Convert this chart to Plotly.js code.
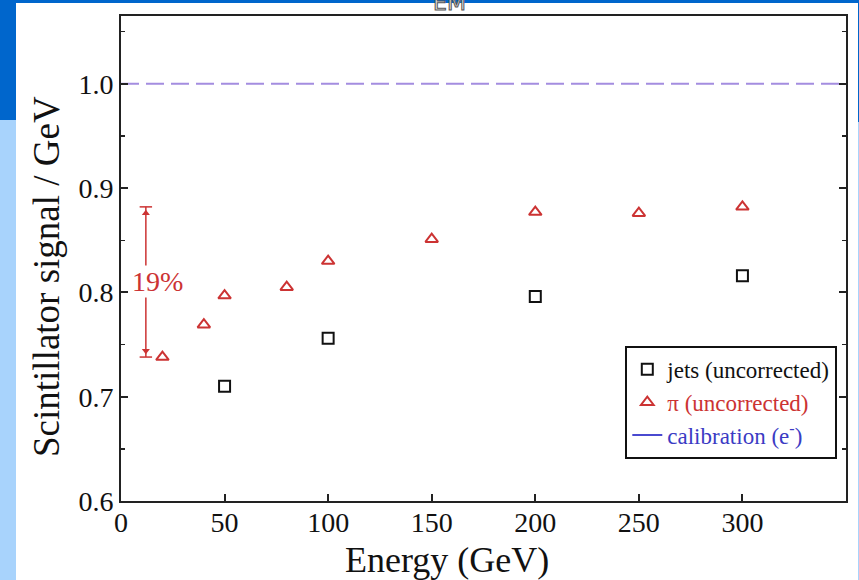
<!DOCTYPE html>
<html>
<head>
<meta charset="utf-8">
<script src="https://cdn.plot.ly/plotly-3.0.1.min.js"></script>
<style>
  html, body { margin: 0; padding: 0; }
  body { width: 859px; height: 580px; position: relative; overflow: hidden; background: #ffffff; }
  .strip { position: absolute; }
  #em { position: absolute; left: 433px; top: -8px; font-family: "DejaVu Sans", sans-serif; font-size: 22px; line-height: 22px;
        color: #e8e8e8; -webkit-text-stroke: 1px #555; z-index: 5; }
  #chart { position: absolute; left: 16px; top: 3px; width: 842px; height: 577px; }
</style>
</head>
<body>
<div class="strip" style="left:0;top:0;width:16px;height:120px;background:#0066cc;"></div>
<div class="strip" style="left:0;top:120px;width:16px;height:460px;background:#a8d3fc;"></div>
<div class="strip" style="left:0;top:0;width:859px;height:3px;background:#0066cc;"></div>
<div class="strip" style="left:858px;top:0;width:1px;height:122px;background:#0066cc;"></div>
<div class="strip" style="left:858px;top:122px;width:1px;height:458px;background:#a8d3fc;"></div>
<div id="em">EM</div>
<div id="chart"></div>
<script>
// ---- data ----
const jetEnergy = [50, 100, 200, 300];
const jetSignal = [0.710, 0.756, 0.796, 0.816];

const pionEnergy = [20, 40, 50, 80, 100, 150, 200, 250, 300];
const pionSignal = [0.738, 0.769, 0.797, 0.805, 0.830, 0.851, 0.877, 0.876, 0.882];

const calibrationEnergy = [0, 350];
const calibrationSignal = [1.0, 1.0];

const xTickValues = [0, 50, 100, 150, 200, 250, 300];
const xTickLabels = ["0", "50", "100", "150", "200", "250", "300"];
const yTickValues = [0.6, 0.7, 0.8, 0.9, 1.0];
const yTickLabels = ["0.6", "0.7", "0.8", "0.9", "1.0"];

const spreadLabel = "19%";
const spreadEnergy = 12;
const spreadLow = 0.738;
const spreadHigh = 0.882;

const labels = {
  jets: "jets (uncorrected)",
  pions: "\u03c0 (uncorrected)",
  calib: "calibration (e<sup>-</sup>)",
  xTitle: "Energy (GeV)",
  yTitle: "Scintillator signal / GeV"
};

const serif = "Liberation Serif, Times New Roman, serif";
const red = "#cc3333";
const blue = "#3b3bc4";
const headInset = 0.006;

const traces = [
  {
    x: calibrationEnergy, y: calibrationSignal, mode: "lines", showlegend: false, hoverinfo: "skip",
    line: { color: "#a48de0", width: 2, dash: "18px,7px" }
  },
  {
    x: [spreadEnergy, spreadEnergy], y: [spreadLow, spreadHigh], mode: "lines", showlegend: false,
    line: { color: red, width: 1.5 }
  },
  {
    x: [spreadEnergy, spreadEnergy], y: [spreadLow + headInset, spreadHigh - headInset], mode: "markers", showlegend: false,
    marker: { symbol: ["triangle-down", "triangle-up"], size: 7, color: red, line: { width: 0 } }
  },
  {
    x: jetEnergy, y: jetSignal, mode: "markers", name: labels.jets,
    marker: { symbol: "square-open", size: 11, color: "#111111", line: { width: 2, color: "#111111" } }
  },
  {
    x: pionEnergy, y: pionSignal, mode: "markers",
    name: '<span style="color:' + red + '">' + labels.pions + '</span>',
    marker: { symbol: "triangle-up-open", size: 11, color: red, line: { width: 2, color: red } }
  },
  {
    x: [null], y: [null], mode: "lines",
    name: '<span style="color:' + blue + '">' + labels.calib + '</span>',
    line: { color: "#4a4ad0", width: 2 }
  }
];

const layout = {
  width: 842, height: 577,
  margin: { l: 105, r: 12, t: 13, b: 79 },
  paper_bgcolor: "#ffffff",
  plot_bgcolor: "#ffffff",
  font: { family: serif, color: "#111111", size: 28 },
  showlegend: true,
  legend: {
    x: 0.988, xanchor: "right", y: 0.087, yanchor: "bottom",
    bgcolor: "#ffffff", bordercolor: "#111111", borderwidth: 2,
    font: { family: serif, size: 23, color: "#111111" },
    tracegroupgap: 0, itemwidth: 30
  },
  xaxis: {
    range: [0, 350], tickvals: xTickValues, ticktext: xTickLabels,
    ticks: "inside", ticklen: 7, tickwidth: 2, tickcolor: "#222",
    showline: true, linewidth: 2, linecolor: "#222", mirror: true,
    showgrid: false, zeroline: false, ticklabelstandoff: -5,
    tickfont: { family: serif, size: 28, color: "#111" }
  },
  yaxis: {
    range: [0.6, 1.065], tickvals: yTickValues, ticktext: yTickLabels,
    ticks: "inside", ticklen: 7, tickwidth: 2, tickcolor: "#222",
    minor: { dtick: 0.05, tick0: 0.6, ticks: "inside", ticklen: 4, tickwidth: 1.5, tickcolor: "#222", showgrid: false },
    showline: true, linewidth: 2, linecolor: "#222", mirror: "ticks",
    showgrid: false, zeroline: false,
    tickfont: { family: serif, size: 28, color: "#111" }
  },
  shapes: [
    { type: "line", xref: "x", yref: "y", x0: spreadEnergy - 3, x1: spreadEnergy + 3, y0: spreadHigh, y1: spreadHigh,
      line: { color: red, width: 1.5 } },
    { type: "line", xref: "x", yref: "y", x0: spreadEnergy - 3, x1: spreadEnergy + 3, y0: spreadLow, y1: spreadLow,
      line: { color: red, width: 1.5 } }
  ],
  annotations: [
    { xref: "x", yref: "y", x: 17.4, y: 0.81, text: spreadLabel, showarrow: false,
      bgcolor: "#ffffff", borderpad: 0, font: { family: serif, size: 28, color: red } },
    { xref: "paper", yref: "paper", x: 0.45, y: -0.122, xanchor: "center", yanchor: "middle",
      text: labels.xTitle, showarrow: false, font: { family: serif, size: 36, color: "#111" } },
    { xref: "paper", yref: "paper", x: -0.102, y: 0.462, xanchor: "center", yanchor: "middle",
      textangle: -90, text: labels.yTitle, showarrow: false, font: { family: serif, size: 37, color: "#111" } }
  ]
};

Plotly.newPlot("chart", traces, layout, { displayModeBar: false, staticPlot: true });
</script>
</body>
</html>
